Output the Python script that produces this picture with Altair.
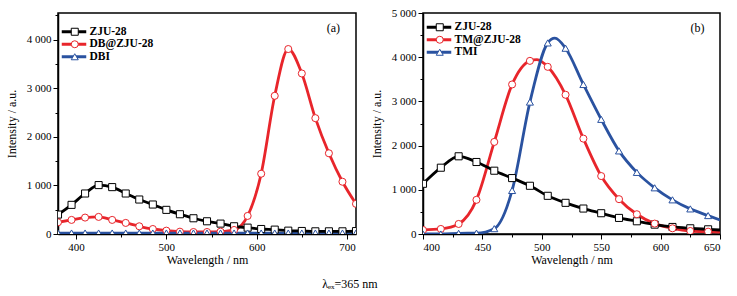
import altair as alt
import pandas as pd

FONT = "Liberation Serif"
BLACK = "#000000"
RED = "#e8252b"
BLUE = "#2a52a0"

# ---------------- Panel (a) ----------------
names_a = ["ZJU-28", "DB@ZJU-28", "DBI"]
wl_a = [380, 395, 410, 425, 440, 455, 470, 485, 500, 515, 530, 545,
        560, 575, 590, 605, 620, 635, 650, 665, 680, 695, 710]
zju_a = [400, 600, 834, 1007, 965, 834, 710, 607, 497, 407, 324, 262,
         214, 159, 131, 103, 90, 69, 62, 55, 55, 55, 60]
db_a = [241, 290, 338, 352, 290, 228, 159, 103, 69, 48, 41, 41,
        48, 83, 372, 1241, 2845, 3808, 3305, 2385, 1662, 1076, 621]
dbi_a = [20, 20, 20, 20, 20, 20, 20, 20, 20, 20, 20, 20,
         20, 20, 20, 20, 20, 20, 20, 20, 20, 20, 20]

# ---------------- Panel (b) ----------------
names_b = ["ZJU-28", "TM@ZJU-28", "TMI"]
wl_b = [400, 415, 430, 445, 460, 475, 490, 505, 520, 535, 550, 565,
        580, 595, 610, 625, 640]
zju_b = [1136, 1500, 1758, 1629, 1432, 1265, 1091, 864, 705, 576, 470, 364,
         288, 212, 159, 129, 106]
tm_b = [91, 114, 227, 773, 2083, 3383, 3917, 3782, 3150, 2158, 1311, 788,
        447, 235, 129, 68, 53]
tmi_b = [0, 0, 15, 20, 121, 985, 2985, 4323, 4203, 3383, 2594, 1880,
         1394, 1045, 773, 568, 417]
# extra points on the smooth curves (no marker): peaks and right edge
zju_b_extra_wl = [650]
zju_b_extra = [91]
tm_b_extra_wl = [496, 650]
tm_b_extra = [3945, 45]
tmi_b_extra_wl = [511, 650]
tmi_b_extra = [4430, 318]

colors = [BLACK, RED, BLUE]
shapes = ["square", "circle", "triangle-up"]
MK = " "  # marker-legend key suffix (keeps the marker legend separate)


def frame(wl, series):
    rows = []
    for name, vals in series:
        for w, v in zip(wl, vals):
            rows.append({"wl": w, "val": v, "series": name, "name": name + MK})
    return pd.DataFrame(rows)


def line_frame(markers, extras):
    df = markers.copy()
    rows = []
    for name, ws, vs in extras:
        for w, v in zip(ws, vs):
            rows.append({"wl": w, "val": v, "series": name, "name": name + MK})
    if rows:
        df = pd.concat([df, pd.DataFrame(rows)], ignore_index=True)
    return df.sort_values(["series", "wl"]).reset_index(drop=True)


LABEL_EXPR = "replace(format(datum.value, ','), ',', ' ')"


def panel(markers, lines, names, xdom, xmaj, xmin, ydom, ymaj, ymin,
          tag, tag_x, tag_y, leg_y, width):
    xs = alt.Scale(domain=xdom, nice=False, zero=False)
    ys = alt.Scale(domain=ydom, nice=False, zero=False)
    main_x = alt.Axis(values=xmaj, title="Wavelength / nm", orient="bottom",
                      titlePadding=2)
    main_y = alt.Axis(values=ymaj, title="Intensity / a.u.", orient="left",
                      labelExpr=LABEL_EXPR, titlePadding=8)

    leg_common = dict(orient="none", legendY=leg_y, padding=0,
                      title=None, labelFont=FONT, labelFontWeight="bold",
                      labelFontSize=11.5, labelColor="black", symbolSize=49,
                      rowPadding=-0.5)

    # line segment starts at the symbol's left edge and runs 24.5 px right
    line_legend = alt.Legend(symbolType="M-1,0H6", symbolStrokeWidth=3,
                             symbolFillColor="transparent", legendX=1.5,
                             labelOffset=18.5, **leg_common)
    pt_legend = alt.Legend(symbolStrokeWidth=1, symbolFillColor="white",
                           labelOpacity=0, legendX=11.0, labelOffset=8,
                           **leg_common)

    line = alt.Chart(lines).mark_line(
        strokeWidth=2.8, interpolate="monotone", clip=True
    ).encode(
        x=alt.X("wl:Q", scale=xs, axis=main_x),
        y=alt.Y("val:Q", scale=ys, axis=main_y),
        stroke=alt.Stroke("series:N", scale=alt.Scale(domain=names, range=colors),
                          legend=line_legend),
    )

    pnames = [n + MK for n in names]
    pts = alt.Chart(markers).mark_point(
        filled=True, fill="white", size=50, strokeWidth=1, opacity=1, clip=True
    ).encode(
        x=alt.X("wl:Q", scale=xs, axis=None),
        y=alt.Y("val:Q", scale=ys, axis=None),
        stroke=alt.Stroke("name:N", scale=alt.Scale(domain=pnames, range=colors),
                          legend=pt_legend),
        shape=alt.Shape("name:N", scale=alt.Scale(domain=pnames, range=shapes),
                        legend=pt_legend),
    )

    tag_df = pd.DataFrame({"wl": [tag_x], "val": [tag_y], "t": [tag]})
    text = alt.Chart(tag_df).mark_text(
        font=FONT, fontSize=12, color="black"
    ).encode(
        x=alt.X("wl:Q", scale=xs,
                axis=alt.Axis(values=xmin, labels=False, tickSize=3, domain=False,
                              title=None, orient="bottom", grid=False)),
        y=alt.Y("val:Q", scale=ys,
                axis=alt.Axis(values=ymin, labels=False, tickSize=3, domain=False,
                              title=None, orient="left", grid=False)),
        text="t:N",
    )

    return alt.layer(line, pts, text).resolve_scale(
        stroke="independent", shape="independent"
    ).resolve_legend(stroke="independent", shape="independent").resolve_axis(
        x="independent", y="independent"
    ).properties(width=width, height=221)


mk_a = frame(wl_a, [(names_a[0], zju_a), (names_a[1], db_a), (names_a[2], dbi_a)])
ln_a = line_frame(mk_a, [])

mk_b = frame(wl_b, [(names_b[0], zju_b), (names_b[1], tm_b), (names_b[2], tmi_b)])
ln_b = line_frame(mk_b, [(names_b[0], zju_b_extra_wl, zju_b_extra),
                         (names_b[1], tm_b_extra_wl, tm_b_extra),
                         (names_b[2], tmi_b_extra_wl, tmi_b_extra)])

pa = panel(mk_a, ln_a, names_a, [380, 710], [400, 500, 600, 700],
           [450, 550, 650], [0, 4550], [0, 1000, 2000, 3000, 4000],
           [500, 1500, 2500, 3500, 4500], "(a)", 685, 4250, 13, 298)
pb = panel(mk_b, ln_b, names_b, [400, 650], [400, 450, 500, 550, 600, 650],
           [425, 475, 525, 575, 625], [0, 5000], [0, 1000, 2000, 3000, 4000, 5000],
           [500, 1500, 2500, 3500, 4500], "(b)", 631, 4660, 8.5, 297)

chart = alt.hconcat(pa, pb, spacing=12).properties(
    padding={"left": 4, "top": 6, "right": 5, "bottom": 2},
    background="white",
    title=alt.TitleParams("λₑₓ=365 nm", orient="bottom", anchor="middle",
                          fontSize=12, font=FONT, fontWeight="normal",
                          color="black", dx=-13, offset=13),
).configure_view(
    stroke="black", strokeWidth=1.5
).configure_axis(
    labelFont=FONT, titleFont=FONT, labelFontSize=11, titleFontSize=12,
    titleFontWeight="normal", labelColor="black", titleColor="black",
    domainColor="black", domainWidth=1.5, tickColor="black", tickWidth=1,
    tickSize=5, labelPadding=2, grid=False
)

chart.save("out.html", embed_options={"renderer": "svg", "actions": False})
